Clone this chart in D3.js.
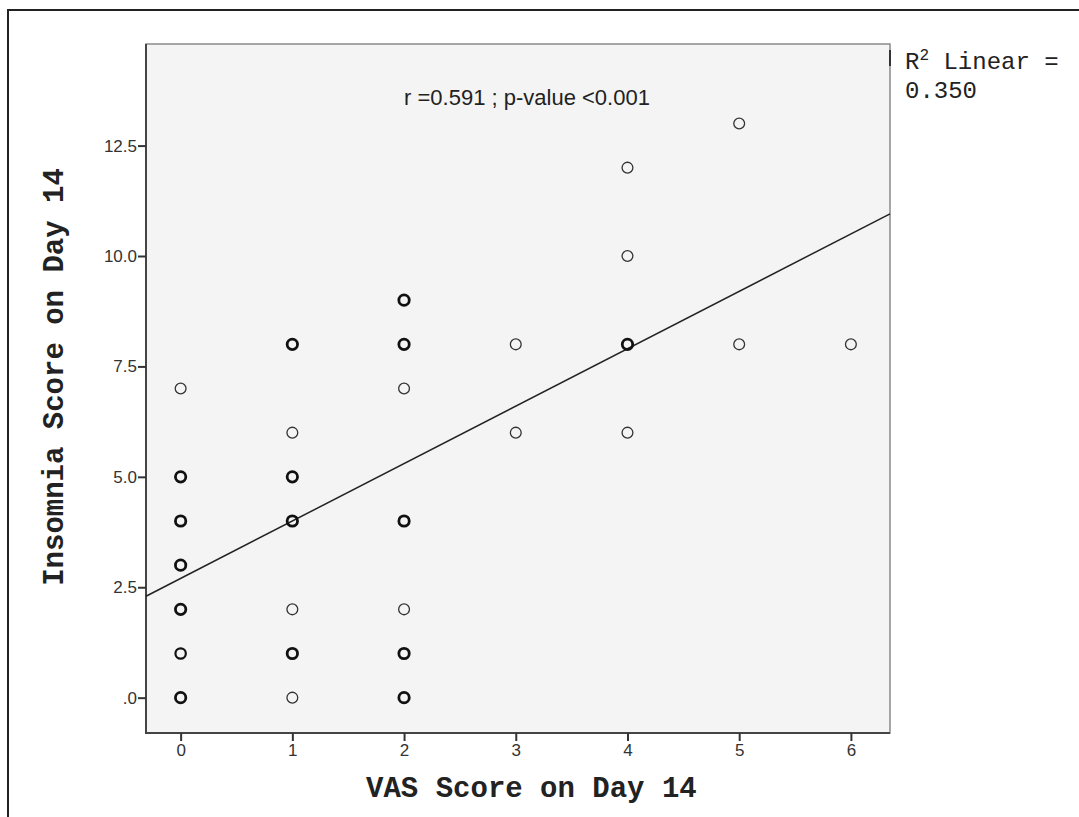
<html>
<head>
<script src="https://d3js.org/d3.v7.min.js"></script>
<style>
    body { margin: 0; background-color: #fff; }
</style>
</head>
<body>
    <svg width="1079" height="817"></svg>
    <script type="text/javascript">
    // VAS score, insomnia score, and number of overlapping cases
    var vas      = [0, 0, 0, 0, 0, 0, 0,  1, 1, 1, 1, 1, 1, 1,  2, 2, 2, 2, 2, 2, 2,  3, 3,  4, 4, 4, 4,  5, 5,  6];
    var insomnia = [7, 5, 4, 3, 2, 1, 0,  8, 6, 5, 4, 2, 1, 0,  9, 8, 7, 4, 2, 1, 0,  8, 6,  12, 10, 8, 6,  13, 8,  8];
    var counts   = [1, 3, 3, 3, 3, 2, 3,  3, 1, 3, 3, 1, 3, 1,  3, 3, 1, 3, 1, 3, 3,  1, 1,  1, 1, 3, 1,  1, 1,  1];
    var xTicks = [0, 1, 2, 3, 4, 5, 6];
    var yTicks = [0, 2.5, 5, 7.5, 10, 12.5];
    var fitIntercept = 2.7, fitSlope = 1.3;

    var data = vas.map(function(v, i) { return {x: v, y: insomnia[i], n: counts[i]}; });

    var svg = d3.select("svg"),
        margin = {top: 44, right: 189, bottom: 84, left: 146},
        width = +svg.attr("width") - margin.left - margin.right,
        height = +svg.attr("height") - margin.top - margin.bottom,
        g = svg.append("g").attr("transform", "translate(" + margin.left + "," + margin.top + ")");

    // outer frame
    svg.append("path")
        .attr("d", "M8,817 V10 H1079")
        .attr("fill", "none")
        .attr("stroke", "#222")
        .attr("stroke-width", 2);

    var x = d3.scaleLinear().domain([-0.31, 6.35]).range([0, width]);
    var y = d3.scaleLinear().domain([-0.8, 14.8]).range([height, 0]);

    g.append("rect")
        .attr("width", width)
        .attr("height", height)
        .attr("fill", "#f4f4f4")
        .attr("stroke", "#8a8a8a")
        .attr("stroke-width", 1.5);

    g.append("path")
        .attr("d", "M0,0 V" + height + " H" + width)
        .attr("fill", "none")
        .attr("stroke", "#444")
        .attr("stroke-width", 2);

    var xAxis = g.append("g")
        .attr("transform", "translate(0," + height + ")")
        .call(d3.axisBottom(x).tickValues(xTicks).tickSize(8).tickPadding(3).tickFormat(d3.format("d")));
    var yAxis = g.append("g")
        .call(d3.axisLeft(y).tickValues(yTicks).tickSize(8).tickPadding(1)
            .tickFormat(function(d) { return d === 0 ? ".0" : d3.format(".1f")(d); }));

    [xAxis, yAxis].forEach(function(a) {
        a.select(".domain").remove();
        a.selectAll(".tick line").attr("stroke", "#333").attr("stroke-width", 2);
        a.selectAll(".tick text")
            .attr("fill", "#333")
            .style("font", "17px 'Liberation Sans', Arial, sans-serif");
    });

    // fit line
    var xd = x.domain();
    g.append("line")
        .attr("x1", x(xd[0])).attr("y1", y(fitIntercept + fitSlope * xd[0]))
        .attr("x2", x(xd[1])).attr("y2", y(fitIntercept + fitSlope * xd[1]))
        .attr("stroke", "#222")
        .attr("stroke-width", 1.5);

    g.selectAll("circle.pt")
        .data(data)
        .enter().append("circle")
        .attr("class", "pt")
        .attr("cx", function(d) { return x(d.x); })
        .attr("cy", function(d) { return y(d.y); })
        .attr("r", function(d) { return d.n > 1 ? 5.2 : 5.4; })
        .attr("fill", "none")
        .attr("stroke", function(d) { return d.n > 1 ? "#111" : "#333"; })
        .attr("stroke-width", function(d) { return d.n > 2 ? 2.8 : (d.n > 1 ? 2.2 : 1.3); });

    g.append("text")
        .attr("x", x(2.0))
        .attr("y", 61)
        .attr("fill", "#222")
        .style("font", "22px 'Liberation Sans', Arial, sans-serif")
        .text("r =0.591 ; p-value <0.001");

    // legend marker remnant and text
    svg.append("line")
        .attr("x1", margin.left + width).attr("x2", margin.left + width)
        .attr("y1", 50).attr("y2", 66)
        .attr("stroke", "#333").attr("stroke-width", 2);

    var leg = svg.append("text")
        .attr("x", 905)
        .attr("y", 69)
        .attr("fill", "#222")
        .style("font", "24px 'Liberation Mono', monospace");
    leg.append("tspan").text("R");
    leg.append("tspan").attr("dy", -9).style("font-size", "16px").text("2");
    leg.append("tspan").attr("dy", 9).text(" Linear =");
    svg.append("text")
        .attr("x", 905)
        .attr("y", 98)
        .attr("fill", "#222")
        .style("font", "24px 'Liberation Mono', monospace")
        .text("0.350");

    // axis titles
    svg.append("text")
        .attr("x", margin.left + x(3.14))
        .attr("y", 797)
        .attr("text-anchor", "middle")
        .attr("fill", "#222")
        .style("font", "bold 29px 'Liberation Mono', monospace")
        .text("VAS Score on Day 14");
    svg.append("text")
        .attr("transform", "translate(63," + 377 + ") rotate(-90)")
        .attr("text-anchor", "middle")
        .attr("fill", "#222")
        .style("font", "bold 29px 'Liberation Mono', monospace")
        .text("Insomnia Score on Day 14");
    </script>
</body>
</html>
